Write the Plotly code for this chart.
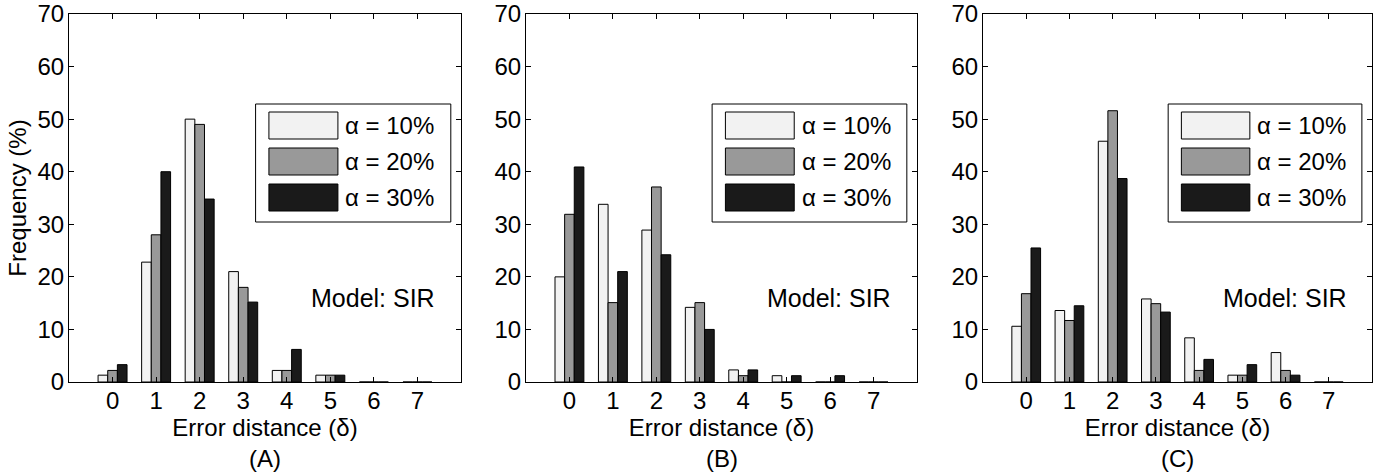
import plotly.graph_objects as go

categories = [0, 1, 2, 3, 4, 5, 6, 7]
series_names = ["α = 10%", "α = 20%", "α = 30%"]
series_colors = ["#f2f2f2", "#999999", "#1a1a1a"]

# Panel A
a_10 = [1.3, 22.8, 50.0, 21.0, 2.2, 1.3, 0, 0]
a_20 = [2.2, 28.0, 49.0, 18.0, 2.2, 1.3, 0, 0]
a_30 = [3.3, 40.0, 34.8, 15.2, 6.2, 1.3, 0, 0]
# Panel B
b_10 = [20.0, 33.8, 28.9, 14.2, 2.3, 1.2, 0, 0]
b_20 = [31.9, 15.1, 37.1, 15.1, 1.2, 0, 0, 0]
b_30 = [40.9, 21.0, 24.2, 10.0, 2.3, 1.2, 1.2, 0]
# Panel C
c_10 = [10.6, 13.6, 45.8, 15.8, 8.4, 1.3, 5.6, 0]
c_20 = [16.8, 11.7, 51.6, 14.9, 2.2, 1.3, 2.2, 0]
c_30 = [25.5, 14.5, 38.7, 13.3, 4.3, 3.3, 1.3, 0]

panels = [
    ("(A)", [a_10, a_20, a_30]),
    ("(B)", [b_10, b_20, b_30]),
    ("(C)", [c_10, c_20, c_30]),
]
panel_note = "Model: SIR"
x_title = "Error distance (δ)"
y_title = "Frequency (%)"
y_ticks = [0, 10, 20, 30, 40, 50, 60, 70]

W, H = 1375, 475
FONT = "Liberation Sans, Arial, Helvetica, sans-serif"
FS = 24

x_pix = [(69, 461), (526, 917), (983, 1372)]
y_top, y_bot = 14, 382
ydom = [(H - y_bot) / H, (H - y_top) / H]
ph = y_bot - y_top

fig = go.Figure()
layout = dict(
    template="none",
    width=W, height=H,
    margin=dict(l=0, r=0, t=0, b=0, pad=0, autoexpand=False),
    paper_bgcolor="white", plot_bgcolor="white",
    barmode="group", bargap=0.335, bargroupgap=0,
    showlegend=False,
    font=dict(family=FONT, size=FS, color="black"),
)

shapes = []
annotations = []

def yd(py):
    return (y_bot - py) / ph

for i, (label, series) in enumerate(panels):
    n = "" if i == 0 else str(i + 1)
    xa, ya = "x" + n, "y" + n
    for s, vals in enumerate(series):
        fig.add_trace(go.Bar(
            x=categories, y=vals, name=series_names[s],
            marker=dict(color=series_colors[s], line=dict(color="black", width=1)),
            xaxis=xa, yaxis=ya, offsetgroup=str(s),
        ))
    x0, x1 = x_pix[i]
    layout["xaxis" + n] = dict(
        domain=[x0 / W, x1 / W], range=[-1, 8], anchor=ya, automargin=False,
        tickmode="array", tickvals=categories, ticktext=[str(c) for c in categories],
        ticks="inside", ticklen=5, tickcolor="black", tickwidth=1,
        showline=True, linecolor="black", linewidth=1, mirror="allticks",
        showgrid=False, zeroline=False,
        tickfont=dict(family=FONT, size=FS, color="black"),
        ticklabelstandoff=-3, ticklabeloverflow="allow",
        title=dict(text=x_title, font=dict(family=FONT, size=FS, color="black"), standoff=2),
    )
    layout["yaxis" + n] = dict(
        domain=ydom, range=[0, 70], anchor=xa, automargin=False,
        tickmode="array", tickvals=y_ticks,
        ticks="inside", ticklen=5, tickcolor="black", tickwidth=1,
        showline=True, linecolor="black", linewidth=1, mirror="allticks",
        showgrid=False, zeroline=False,
        tickfont=dict(family=FONT, size=FS, color="black"),
        ticklabelstandoff=-1, ticklabeloverflow="allow",
    )
    if i == 0:
        layout["yaxis"]["title"] = dict(text=y_title, font=dict(family=FONT, size=FS, color="black"), standoff=4)

    xr, yr = xa + " domain", ya + " domain"
    # legend box
    shapes.append(dict(type="rect", xref=xr, yref=yr, x0=0.476, x1=0.974, y0=yd(222), y1=yd(104),
                       line=dict(color="black", width=1), fillcolor="white", layer="above"))
    rows = [(112, 139), (148, 175), (184, 211)]
    for s, (ptop, pbot) in enumerate(rows):
        shapes.append(dict(type="rect", xref=xr, yref=yr, x0=0.510, x1=0.686, y0=yd(pbot), y1=yd(ptop),
                           line=dict(color="black", width=1), fillcolor=series_colors[s], layer="above"))
        annotations.append(dict(xref=xr, yref=yr, x=0.700, y=yd((ptop + pbot) / 2),
                                text=series_names[s], showarrow=False, xanchor="left", yanchor="middle",
                                font=dict(family=FONT, size=FS, color="black")))
    annotations.append(dict(xref=xr, yref=yr, x=0.776, y=yd(298), text=panel_note, showarrow=False,
                            xanchor="center", yanchor="middle",
                            font=dict(family=FONT, size=25, color="black")))
    annotations.append(dict(xref="paper", yref="paper", x=(x0 + x1) / 2 / W, y=(H - 458) / H,
                            text=label, showarrow=False, xanchor="center", yanchor="middle",
                            font=dict(family=FONT, size=FS, color="black")))

layout["shapes"] = shapes
layout["annotations"] = annotations
fig.update_layout(**layout)
fig.write_html(
    "out.html",
    config={"displayModeBar": False},
    post_script="document.body.style.margin='0';document.body.style.padding='0';document.body.style.overflow='hidden';",
)
